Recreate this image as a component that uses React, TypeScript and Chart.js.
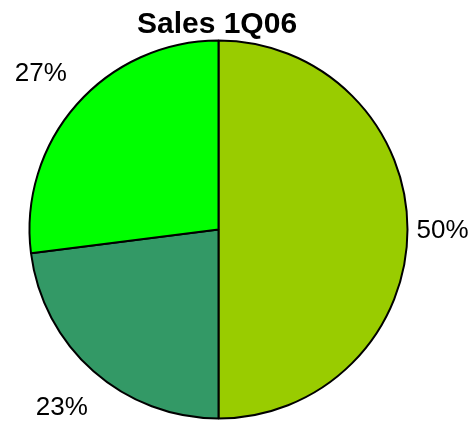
import React, { useEffect, useRef } from "react";
import { Chart, registerables } from "chart.js";

Chart.register(...registerables);

const categories = ["A", "B", "C"];
const values = [50, 23, 27];
const labels = ["50%", "23%", "27%"];
const colors = ["#99CC00", "#339966", "#00FF00"];
const title = "Sales 1Q06";

const labelPlugin = {
  id: "pieLabels",
  afterDatasetsDraw(chart: any) {
    const ctx = chart.ctx;
    const meta = chart.getDatasetMeta(0);
    ctx.save();
    ctx.fillStyle = "#000";
    ctx.font = "26px 'Liberation Sans', Arial, sans-serif";
    ctx.textAlign = "center";
    ctx.textBaseline = "middle";
    meta.data.forEach((arc: any, i: number) => {
      const p = arc.getProps(["x", "y", "startAngle", "endAngle", "outerRadius"], true);
      const mid = (p.startAngle + p.endAngle) / 2;
      const d = p.outerRadius + 35 + 13 * Math.abs(Math.sin(2 * mid));
      ctx.fillText(labels[i], p.x + Math.cos(mid) * d, p.y + Math.sin(mid) * d + 1);
    });
    ctx.font = "bold 30px 'Liberation Sans', Arial, sans-serif";
    ctx.textBaseline = "alphabetic";
    ctx.fillText(title, 217, 33);
    ctx.restore();
  },
};

export default function App() {
  const ref = useRef<HTMLCanvasElement>(null);
  useEffect(() => {
    document.body.style.margin = "0";
    const chart = new Chart(ref.current!, {
      type: "pie",
      data: {
        labels: categories,
        datasets: [
          {
            data: values,
            backgroundColor: colors,
            borderColor: "#000",
            borderWidth: 2,
            borderAlign: "center",
          },
        ],
      },
      options: {
        animation: false,
        responsive: false,
        layout: { padding: { left: 28.5, top: 39.5, right: 63.5, bottom: 3.5 } },
        plugins: { legend: { display: false }, tooltip: { enabled: false }, title: { display: false } },
      },
      plugins: [labelPlugin],
    });
    return () => chart.destroy();
  }, []);
  return (
    <div style={{ position: "absolute", left: 0, top: 0, width: 472, height: 423, background: "#fff" }}>
      <canvas ref={ref} width={472} height={423} />
    </div>
  );
}
